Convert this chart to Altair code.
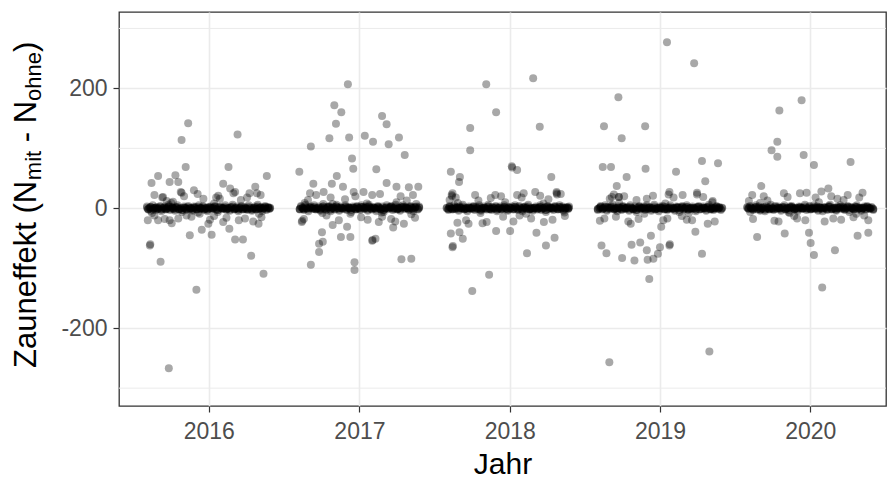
import altair as alt
import pandas as pd
from datetime import date, timedelta

# Day offsets of each season are counted from its reference date
season_refs = {
    2016: date(2015, 12, 30),
    2017: date(2016, 12, 27),
    2018: date(2017, 12, 26),
    2019: date(2018, 12, 25),
    2020: date(2019, 12, 23),
}

# --- dense band of small differences ---
# per day: number of records, their common value, and one looser value
band_days_2016 = [
    -148, -145, -141, -139, -134, -131, -127, -124, -121, -116,
    -113, -110, -105, -102, -99, -95, -92, -87, -84, -80,
    -77, -74, -70, -66, -63, -58, -55, -52, -48, -44,
    -41, -37, -34, -30, -27, -22, -19, -16, -12, -9,
    -5, -1, 2, 6, 9, 13, 17, 20, 24, 27,
    31, 35, 38, 42, 45, 49, 53, 56, 60, 64,
    67, 71, 74, 78, 81, 85, 89, 92, 96, 99,
    103, 107, 110, 114, 117, 121, 125, 128, 132, 135,
    139, 142, 146, 149, 151, -136, -89, -24, 15, 124,
]
band_vals_2016 = [
    1, -1, 0, 2, -2, 0, 1, -1, 0, 2,
    -2, 0, 1, -1, 0, 3, -1, 1, 0, -2,
    1, 2, -1, 0, -3, 1, 0, -1, 2, 0,
    0, -2, 1, 1, -1, 2, 0, 0, 2, -1,
    0, -2, 1, 1, 0, 0, 2, -1, -3, 1,
    1, 0, 0, 2, -1, 0, -2, 1, 3, -1,
    0, 1, -2, 0, 2, -1, 1, 0, -1, 2,
    0, -2, 0, 1, -1, 3, 0, 1, -2, 0,
    2, -1, 1, 0, 0, -8, 9, -7, 8, -9,
]
band_wide_2016 = [
    3, -2, 1, -4, 5, 0, -3, 2, -1, 4,
    -5, 1, 3, -2, 0, 6, -3, 2, -1, -4,
    2, 5, -2, 0, -6, 3, 1, -3, 4, -1,
    0, -4, 3, 2, -2, 5, -1, 0, 4, -3,
    1, -5, 2, 3, -1, 0, 4, -2, -6, 2,
    3, -1, 0, 5, -3, 1, -4, 2, 6, -2,
    0, 3, -5, 1, 4, -2, 2, -1, -3, 5,
    1, -4, 0, 3, -2, 6, -1, 2, -5, 0,
    4, -3, 2, -1, 1, -8, 9, -7, 8, -9,
]
band_n_2016 = [
    2, 3, 2, 3, 2, 3, 3, 2, 3, 2,
    3, 2, 3, 3, 2, 3, 2, 3, 3, 2,
    3, 2, 3, 2, 3, 3, 2, 3, 2, 3,
    2, 3, 3, 2, 3, 2, 3, 3, 2, 3,
    3, 3, 2, 3, 2, 3, 3, 2, 3, 2,
    2, 3, 3, 2, 3, 3, 2, 3, 2, 3,
    3, 2, 3, 3, 2, 3, 2, 3, 3, 2,
    2, 3, 2, 3, 3, 2, 3, 3, 2, 3,
    3, 2, 3, 2, 2, 1, 1, 1, 1, 1,
]

band_days_2017 = [
    -140, -137, -133, -130, -126, -123, -119, -115, -112, -108,
    -105, -101, -98, -94, -90, -87, -83, -80, -76, -72,
    -69, -65, -62, -58, -55, -51, -47, -44, -40, -37,
    -33, -29, -26, -22, -19, -15, -11, -8, -4, -1,
    3, 7, 10, 14, 17, 21, 25, 28, 32, 35,
    39, 43, 46, 50, 53, 57, 61, 64, 68, 71,
    75, 79, 82, 86, 89, 93, 97, 100, 104, 107,
    111, 115, 118, 122, 125, 129, 133, 136, 140, 143,
    147, 150, -128, -85, -60, -17, 23, 59, 95, 131,
]
band_vals_2017 = [
    -1, 2, 0, -1, 3, 0, -2, 1, 1, 0,
    2, -1, 0, 1, -2, 0, 3, 0, -1, 1,
    2, -2, 0, 1, -1, 3, 0, -2, 1, 0,
    0, 2, -1, 1, 0, -3, 1, 0, -1, 2,
    0, -1, 2, 1, 0, 1, -2, 3, 0, -1,
    1, 0, -2, 2, 0, -1, 1, -3, 0, 2,
    0, 1, 2, -1, 0, 3, -1, 0, -2, 1,
    2, 0, 1, 0, -1, 2, 0, -2, 1, 3,
    -1, 1, 9, -8, 7, -9, 8, -7, 10, -10,
]
band_wide_2017 = [
    -2, 4, 1, -3, 6, 0, -5, 2, 3, -1,
    5, -2, 0, 3, -4, 1, 7, -1, -3, 2,
    4, -5, 0, 2, -2, 6, 1, -4, 3, 0,
    -1, 5, -3, 2, 0, -6, 3, 1, -2, 4,
    0, -3, 5, 2, -1, 3, -4, 6, 1, -2,
    2, 0, -5, 4, 1, -2, 3, -6, 0, 5,
    -1, 2, 4, -3, 0, 6, -2, 1, -4, 3,
    5, -1, 2, 0, -3, 4, 1, -5, 2, 7,
    -2, 3, 9, -8, 7, -9, 8, -7, 10, -10,
]
band_n_2017 = [
    3, 2, 3, 3, 2, 3, 2, 3, 2, 3,
    2, 3, 3, 2, 3, 2, 3, 3, 2, 3,
    3, 3, 2, 3, 2, 3, 3, 2, 3, 2,
    2, 3, 2, 3, 3, 2, 3, 2, 3, 3,
    3, 2, 3, 2, 3, 3, 2, 3, 3, 2,
    3, 3, 2, 3, 2, 3, 2, 3, 3, 2,
    2, 3, 3, 2, 3, 2, 3, 3, 2, 3,
    3, 2, 3, 3, 2, 3, 3, 2, 3, 2,
    2, 3, 1, 1, 1, 1, 1, 1, 1, 1,
]

band_days_2018 = [
    -147, -143, -140, -136, -133, -129, -126, -122, -118, -115,
    -111, -108, -104, -100, -97, -93, -90, -86, -82, -79,
    -75, -72, -68, -64, -61, -57, -54, -50, -46, -43,
    -39, -36, -32, -28, -25, -21, -18, -14, -10, -7,
    -3, 1, 4, 8, 11, 15, 19, 22, 26, 29,
    33, 37, 40, 44, 47, 51, 55, 58, 62, 65,
    69, 73, 76, 80, 83, 87, 91, 94, 98, 101,
    105, 109, 112, 116, 119, 123, 127, 130, 134, 137,
    141, 145, 148, 150, -120, -65, -5, 46, 88, 139,
]
band_vals_2018 = [
    0, -1, 2, 0, -1, 2, 0, 1, -2, 1,
    0, 3, -1, 0, -2, 1, 0, 0, 2, -1,
    1, 0, 2, -2, 0, 1, 0, -1, 3, 0,
    -1, 1, 0, 2, -2, 0, 1, -1, 0, 2,
    0, -2, 1, 0, 1, -1, 2, 0, -1, 2,
    0, -2, 1, 1, 0, 3, -1, 0, -2, 0,
    1, -1, 0, 2, -1, 0, 1, -3, 2, 0,
    1, 0, -1, 2, 0, -1, 2, 0, 1, -2,
    0, 1, 0, 1, 9, -8, 10, -9, 8, -7,
]
band_wide_2018 = [
    1, -3, 4, 0, -2, 5, -1, 2, -4, 3,
    0, 6, -2, 1, -5, 3, 0, -1, 4, -3,
    2, -1, 5, -4, 0, 3, 1, -2, 6, -1,
    -3, 2, 0, 4, -5, 1, 3, -2, 0, 5,
    -1, -4, 2, 0, 3, -2, 5, 1, -3, 4,
    0, -5, 2, 3, -1, 6, -2, 1, -4, 0,
    3, -2, 1, 5, -3, 0, 2, -6, 4, -1,
    2, 0, -3, 4, 1, -2, 5, -1, 3, -4,
    0, 2, -1, 3, 9, -8, 10, -9, 8, -7,
]
band_n_2018 = [
    2, 3, 3, 2, 3, 2, 3, 3, 2, 3,
    3, 2, 3, 3, 2, 3, 2, 3, 3, 2,
    2, 3, 2, 3, 3, 2, 3, 2, 3, 3,
    3, 2, 3, 2, 3, 3, 2, 3, 2, 3,
    3, 3, 2, 3, 2, 3, 3, 2, 3, 2,
    2, 3, 3, 2, 3, 2, 3, 3, 2, 3,
    3, 2, 3, 3, 2, 3, 2, 3, 3, 2,
    3, 3, 2, 3, 2, 3, 3, 2, 3, 2,
    3, 2, 3, 2, 1, 1, 1, 1, 1, 1,
]

band_days_2019 = [
    -144, -140, -137, -133, -130, -126, -122, -119, -115, -112,
    -108, -104, -101, -97, -94, -90, -86, -83, -79, -76,
    -72, -68, -65, -61, -58, -54, -50, -47, -43, -40,
    -36, -32, -29, -25, -22, -18, -14, -11, -7, -4,
    0, 4, 7, 11, 14, 18, 22, 25, 29, 32,
    36, 40, 43, 47, 50, 54, 58, 61, 65, 68,
    72, 76, 79, 83, 86, 90, 94, 97, 101, 104,
    108, 112, 115, 119, 122, 126, 130, 133, 137, 140,
    144, 148, 151, 155, 158, -92, -31, 20, 77, 134,
]
band_vals_2019 = [
    -1, 0, 2, -1, 0, 2, -2, 1, 0, 1,
    3, -1, 0, -2, 1, 0, -1, 2, 0, 0,
    1, -2, 2, 0, -1, 1, -3, 0, 2, 0,
    0, 1, -1, 2, 0, 1, -2, 0, 3, -1,
    0, -2, 1, 0, 2, -1, 1, -1, 0, 2,
    0, 0, -2, 1, 1, -3, 0, 2, -1, 0,
    2, -1, 0, 0, 1, 0, -2, 1, 2, -1,
    0, 1, 0, -2, 1, 3, -1, 0, -1, 0,
    2, 0, 1, -1, 0, 9, -9, 8, -8, 10,
]
band_wide_2019 = [
    -3, 1, 4, -2, 0, 5, -4, 2, -1, 3,
    6, -2, 0, -5, 3, 1, -3, 4, 0, -1,
    2, -4, 5, 0, -2, 3, -6, 1, 4, -1,
    0, 3, -3, 5, -1, 2, -4, 0, 6, -2,
    1, -5, 3, 0, 4, -2, 2, -3, 1, 5,
    -1, 0, -4, 3, 2, -6, 1, 4, -2, 0,
    5, -3, 1, -1, 3, 0, -5, 2, 4, -2,
    -1, 3, 0, -4, 2, 6, -2, 1, -3, 0,
    4, -1, 2, -3, 1, 9, -9, 8, -8, 10,
]
band_n_2019 = [
    3, 2, 3, 2, 3, 3, 2, 3, 2, 3,
    2, 3, 3, 2, 3, 2, 3, 3, 2, 3,
    3, 2, 2, 3, 3, 2, 3, 2, 3, 3,
    2, 3, 3, 2, 3, 3, 2, 3, 2, 3,
    3, 2, 3, 3, 2, 3, 2, 3, 3, 2,
    2, 3, 2, 3, 3, 2, 3, 3, 2, 3,
    3, 3, 2, 3, 2, 3, 3, 2, 3, 2,
    2, 3, 3, 2, 3, 2, 3, 3, 2, 3,
    3, 2, 3, 2, 2, 1, 1, 1, 1, 1,
]

band_days_2020 = [
    -144, -141, -137, -134, -130, -126, -123, -119, -116, -112,
    -108, -105, -101, -98, -94, -90, -87, -83, -80, -76,
    -72, -69, -65, -62, -58, -54, -51, -47, -44, -40,
    -36, -33, -29, -26, -22, -18, -15, -11, -8, -4,
    0, 3, 7, 10, 14, 18, 21, 25, 28, 32,
    36, 39, 43, 46, 50, 54, 57, 61, 64, 68,
    72, 75, 79, 82, 86, 90, 93, 97, 100, 104,
    108, 111, 115, 118, 122, 126, 129, 133, 136, 140,
    144, 147, 151, 154, 158, 162, -113, -41, 30, 121,
]
band_vals_2020 = [
    1, 0, 2, 0, -1, 0, 2, -1, 1, -2,
    0, 1, -2, 1, 0, -1, 3, 0, -1, 2,
    0, 1, 0, -2, 1, 2, -1, 0, -3, 1,
    2, 0, -1, 0, -2, 1, 1, 0, 0, 3,
    -1, 0, 2, -1, 0, 2, 0, 1, -2, 1,
    0, -2, 1, 0, -1, 2, 3, -1, 0, 0,
    -2, 1, 0, 2, 0, 1, -1, 0, 2, -3,
    1, 0, -1, 1, 2, 0, 0, -2, 0, 1,
    -1, 2, 0, 0, 1, -1, 9, -8, 10, -9,
]
band_wide_2020 = [
    2, -1, 4, 0, -3, 1, 5, -2, 3, -4,
    0, 2, -5, 3, 1, -2, 6, 0, -3, 4,
    -1, 3, 0, -4, 2, 5, -2, 1, -6, 3,
    4, 0, -2, 1, -5, 3, 2, -1, 0, 6,
    -3, 1, 4, -2, 0, 5, -1, 3, -4, 2,
    0, -5, 2, 1, -3, 4, 6, -2, 0, 1,
    -4, 3, 0, 5, -1, 2, -3, 1, 4, -6,
    2, 0, -2, 3, 5, -1, 1, -4, 0, 3,
    -2, 4, 1, -1, 2, -3, 9, -8, 10, -9,
]
band_n_2020 = [
    2, 3, 2, 3, 3, 2, 3, 2, 3, 3,
    3, 2, 3, 2, 3, 3, 2, 3, 3, 2,
    2, 3, 3, 2, 3, 2, 3, 3, 2, 3,
    3, 2, 3, 3, 2, 3, 2, 3, 3, 2,
    2, 3, 2, 3, 3, 2, 3, 3, 2, 3,
    3, 2, 3, 2, 3, 3, 2, 3, 2, 3,
    3, 3, 2, 3, 2, 3, 3, 2, 3, 2,
    2, 3, 3, 2, 3, 2, 3, 2, 3, 3,
    2, 3, 2, 3, 2, 3, 1, 1, 1, 1,
]

# --- larger differences: (day, value) ---
spread_2016 = [
    (-48, 142), (-64, 114), (72, 123), (-54, 69), (-137, 42), (-121, 54),
    (-93, 44), (-79, 55), (-72, 44), (-66, 27), (-34, 30), (50, 69),
    (37, 41), (54, 33), (66, 27), (115, 36), (143, 54), (-111, 18),
    (101, 25), (119, 25), (-11, 16), (29, 16), (-85, 11),
    (-141, -62), (-140, -60), (-115, -89), (-28, -136), (-95, -267),
    (-44, -45), (-15, -36), (9, -44), (1, -26), (66, -52), (85, -52),
    (105, -79), (135, -109), (123, -26), (52, -34), (37, -23),
    (-146, -20), (-121, -20), (-93, -20), (-72, -17), (-109, 19),
    (-64, 26), (62, 25), (90, -17), (-52, -12), (-20, -9),
    (-100, 12), (-40, -14), (15, -13), (80, 14), (130, -15), (-130, -12), (20, 18),
    (-130, 22), (-105, -18), (-58, 20), (-25, 24), (5, -19), (25, 21),
    (45, -16), (75, -20), (95, 18), (128, 22), (-88, -25), (110, -22),
]
spread_2017 = [
    (-23, 207), (-56, 172), (-39, 160), (-52, 141), (-68, 117), (-20, 118),
    (60, 154), (71, 140), (18, 121), (38, 111), (76, 107), (101, 118),
    (115, 89), (-113, 103), (-141, 61), (-13, 83), (-10, 66), (46, 65),
    (-107, 41), (-62, 41), (-50, 54), (-35, 36), (71, 42), (95, 36),
    (125, 35), (148, 36), (-9, 27), (15, 27), (-82, 27), (36, 22),
    (-113, -94), (-93, -73), (-93, -59), (-84, -56), (-86, -40),
    (-7, -90), (-7, -103), (-40, -48), (-17, -48), (36, -54), (37, -53),
    (44, -51), (107, -85), (131, -84), (-135, -23), (-134, -21),
    (-60, -28), (-25, -31), (52, -23), (87, -32), (113, -26), (9, -15),
    (-120, 14), (-75, -12), (-30, 15), (60, -14), (120, 13), (140, -16),
    (-130, -18), (-100, 22), (-65, 18), (-45, -20), (-5, 20), (25, -19),
    (55, 24), (82, -18), (105, 20), (135, 22), (-115, 25), (92, -22),
]
spread_2018 = [
    (-51, 207), (-27, 160), (-90, 134), (-90, 97), (63, 217), (79, 136),
    (-137, 61), (-115, 52), (-117, 44), (11, 70), (12, 68), (24, 64),
    (107, 52), (-133, 25), (68, 27), (120, 27), (-29, 22), (24, 22), (40, 25),
    (-85, -138), (-44, -111), (-133, -65), (-132, -63), (-137, -42),
    (-116, -40), (-108, -51), (-94, -26), (-27, -38), (7, -38), (48, -75),
    (71, -41), (94, -62), (115, -49), (-121, -24), (-135, 22), (-134, 20),
    (120, 25), (121, 23), (89, -23), (-50, -23),
    (-70, 13), (-10, -14), (30, -12), (100, 15), (140, -13), (-140, 14),
    (-125, 18), (-100, -20), (-78, 22), (-40, 17), (-15, 20), (15, -22),
    (35, 18), (58, -17), (80, 21), (110, -19), (130, 24), (-60, -25),
]
spread_2019 = [
    (-94, 185), (-129, 137), (-86, 117), (-29, 137), (-132, 69), (-112, 69),
    (-74, 52), (-28, 66), (-98, 37), (-93, 19), (-115, 16), (24, 277),
    (90, 242), (109, 79), (148, 75), (46, 61), (117, 45), (30, 27),
    (97, 26), (-25, 16),
    (-116, -257), (127, -239), (-135, -62), (-123, -75), (-85, -83),
    (-55, -87), (-62, -61), (-41, -57), (-19, -118), (-15, -46),
    (-25, -70), (-23, -86), (-9, -84), (2, -76), (7, -65), (30, -62),
    (31, -60), (10, -31), (109, -76), (93, -39), (123, -26), (-139, -21),
    (-64, -26), (25, -17), (72, -19), (-110, 19), (-93, 19), (28, 23), (97, 23),
    (-50, 14), (60, -13), (135, 12), (-100, -14),
    (-128, -17), (-105, 23), (-80, 20), (-45, -18), (-10, 21), (15, -20),
    (40, 18), (62, 22), (85, -20), (112, 19), (140, -22), (-70, -22),
]
spread_2020 = [
    (-12, 180), (-66, 163), (-71, 111), (-85, 97), (-71, 86), (-7, 89),
    (18, 72), (107, 77), (-110, 37), (-132, 22), (-55, 25), (-16, 25),
    (0, 26), (36, 28), (53, 33), (136, 26), (75, 16),
    (-120, -48), (-53, -42), (6, -41), (10, -58), (18, -78), (69, -70),
    (38, -132), (124, -46), (150, -41), (-137, -6), (-68, -22), (-23, -17),
    (65, -17), (114, -15),
    (-95, 13), (-30, -13), (90, 14), (140, -12), (-140, 12),
    (-130, -18), (-104, 20), (-78, -21), (-46, 19), (-3, -20), (22, 18),
    (44, -22), (60, 20), (84, -19), (100, 22), (128, 18), (150, -20),
]

bands = {
    2016: (band_days_2016, band_vals_2016, band_wide_2016, band_n_2016),
    2017: (band_days_2017, band_vals_2017, band_wide_2017, band_n_2017),
    2018: (band_days_2018, band_vals_2018, band_wide_2018, band_n_2018),
    2019: (band_days_2019, band_vals_2019, band_wide_2019, band_n_2019),
    2020: (band_days_2020, band_vals_2020, band_wide_2020, band_n_2020),
}
spreads = {2016: spread_2016, 2017: spread_2017, 2018: spread_2018,
           2019: spread_2019, 2020: spread_2020}

rows = []
for season, ref in season_refs.items():
    days, vals, wide, counts = bands[season]
    assert len(days) == len(vals) == len(wide) == len(counts)
    records = []
    for d, v, w, n in zip(days, vals, wide, counts):
        records.extend([(d, v)] * (n - 1))
        records.append((d, w))
    records += spreads[season]
    for d, v in records:
        rows.append({"datum": (ref + timedelta(days=d)).isoformat(), "effekt": v})
df = pd.DataFrame(rows)

minor_breaks = pd.DataFrame({"wert": [-300, -100, 100, 300]})

FONT = "Liberation Sans"
GRID = "#EBEBEB"
INK = "#333333"

y_scale = alt.Scale(domain=[-329.8, 327.4], nice=False, zero=False)
x_scale = alt.Scale(
    type="utc",
    domain=[alt.DateTime(year=2015, month=5, date=28, utc=True),
            alt.DateTime(year=2020, month=7, date=3, utc=True)],
    nice=False,
)
y_axis = alt.Axis(
    values=[-200, 0, 200],
    labelExpr="'' + datum.value",
    grid=True, gridColor=GRID, gridWidth=1.6,
    domain=False,
    tickColor=INK, tickSize=6, tickWidth=1.2,
    labelFont=FONT, labelFontSize=23, labelColor="#4D4D4D", labelPadding=6,
    title=None,
)
x_axis = alt.Axis(
    tickCount="year",
    labelExpr="utcFormat(datum.value, '%Y')",
    grid=True, gridColor=GRID, gridWidth=1.6,
    domain=False,
    tickColor=INK, tickSize=6, tickWidth=1.2,
    labelFont=FONT, labelFontSize=23, labelColor="#4D4D4D", labelPadding=8,
    title="Jahr", titleFont=FONT, titleFontSize=30, titleColor="black",
    titleFontWeight="normal", titlePadding=6,
)

# minor horizontal grid lines
minor_grid = alt.Chart(minor_breaks).mark_rule(color=GRID, strokeWidth=1.0).encode(
    y=alt.Y("wert:Q", scale=y_scale, axis=y_axis)
)

points = alt.Chart(df).mark_circle(size=64, color="black", opacity=0.34).encode(
    x=alt.X("datum:T", scale=x_scale, axis=x_axis),
    y=alt.Y("effekt:Q", scale=y_scale, axis=y_axis),
)

# y-axis title with subscripts, set piece by piece (rotated, read bottom to top)
title_x = -83
title_pieces = [
    ("Zauneffekt (N", 31, 356.0, 0),
    ("mit", 22, 168.2, 5),
    ("- N", 31, 130.3, 0),
    ("ohne", 22, 89.0, 5),
    (")", 31, 40.1, 0),
]
title_layers = []
for text, size, ypos, shift in title_pieces:
    title_layers.append(
        alt.Chart(pd.DataFrame({"k": [0]}))
        .mark_text(angle=270, align="left", baseline="alphabetic",
                   font=FONT, fontSize=size, color="black")
        .encode(x=alt.value(title_x + shift), y=alt.value(ypos), text=alt.value(text))
    )

chart = (
    alt.layer(minor_grid, points, *title_layers)
    .properties(
        width=767, height=394,
        padding={"left": 119, "top": 12, "right": 2, "bottom": 73},
        autosize=alt.AutoSizeParams(type="none"),
        background="white",
    )
    .configure_view(stroke=INK, strokeWidth=1.3)
)

chart.save("out.html", embed_options={"renderer": "svg", "actions": False})
